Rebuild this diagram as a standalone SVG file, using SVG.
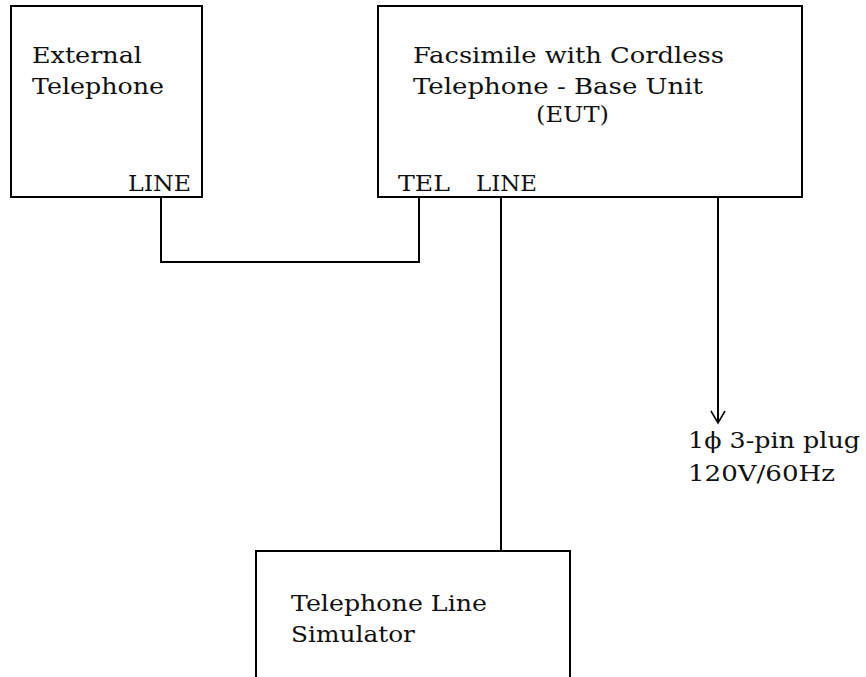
<svg xmlns="http://www.w3.org/2000/svg" width="866" height="677" viewBox="0 0 866 677">
<style>
.box{fill:#fff;stroke:#000;stroke-width:2}
.wire{fill:none;stroke:#000;stroke-width:2}
text{font-family:"DejaVu Serif","Liberation Serif",serif;font-size:22px;fill:#111}
</style>
<defs>
<marker id="arr" markerWidth="16" markerHeight="16" refX="14" refY="8" orient="auto" markerUnits="userSpaceOnUse" viewBox="0 0 16 16">
<path d="M2,1 L14,8 L2,15" fill="none" stroke="#000" stroke-width="1.5"/>
</marker>
</defs>
<rect width="866" height="677" fill="#fff"/>
<g id="connectors">
<polyline class="wire" points="161,197 161,262 419,262 419,197"/>
<line class="wire" x1="501" y1="197" x2="501" y2="551"/>
<line class="wire" x1="718" y1="197" x2="718" y2="423" marker-end="url(#arr)"/>
</g>
<g id="external-telephone">
<rect class="box" x="11" y="6" width="191" height="191"/>
<text x="32" y="63" textLength="110" lengthAdjust="spacingAndGlyphs">External</text>
<text x="32" y="94" textLength="132" lengthAdjust="spacingAndGlyphs">Telephone</text>
<text x="128" y="191" textLength="63" lengthAdjust="spacingAndGlyphs">LINE</text>
</g>
<g id="eut">
<rect class="box" x="378" y="6" width="424" height="191"/>
<text x="413" y="63" textLength="311" lengthAdjust="spacingAndGlyphs">Facsimile with Cordless</text>
<text x="413" y="94" textLength="290" lengthAdjust="spacingAndGlyphs">Telephone - Base Unit</text>
<text x="536" y="122" textLength="73" lengthAdjust="spacingAndGlyphs">(EUT)</text>
<text x="398" y="191" textLength="52" lengthAdjust="spacingAndGlyphs">TEL</text>
<text x="476" y="191" textLength="61" lengthAdjust="spacingAndGlyphs">LINE</text>
</g>
<g id="power-plug">
<text x="688" y="448" textLength="172" lengthAdjust="spacingAndGlyphs">1ϕ 3-pin plug</text>
<text x="688" y="481" textLength="147" lengthAdjust="spacingAndGlyphs">120V/60Hz</text>
</g>
<g id="line-simulator">
<path class="wire" d="M256,677 L256,551 L570,551 L570,677"/>
<text x="291" y="611" textLength="196" lengthAdjust="spacingAndGlyphs">Telephone Line</text>
<text x="291" y="642" textLength="124" lengthAdjust="spacingAndGlyphs">Simulator</text>
</g>
</svg>
